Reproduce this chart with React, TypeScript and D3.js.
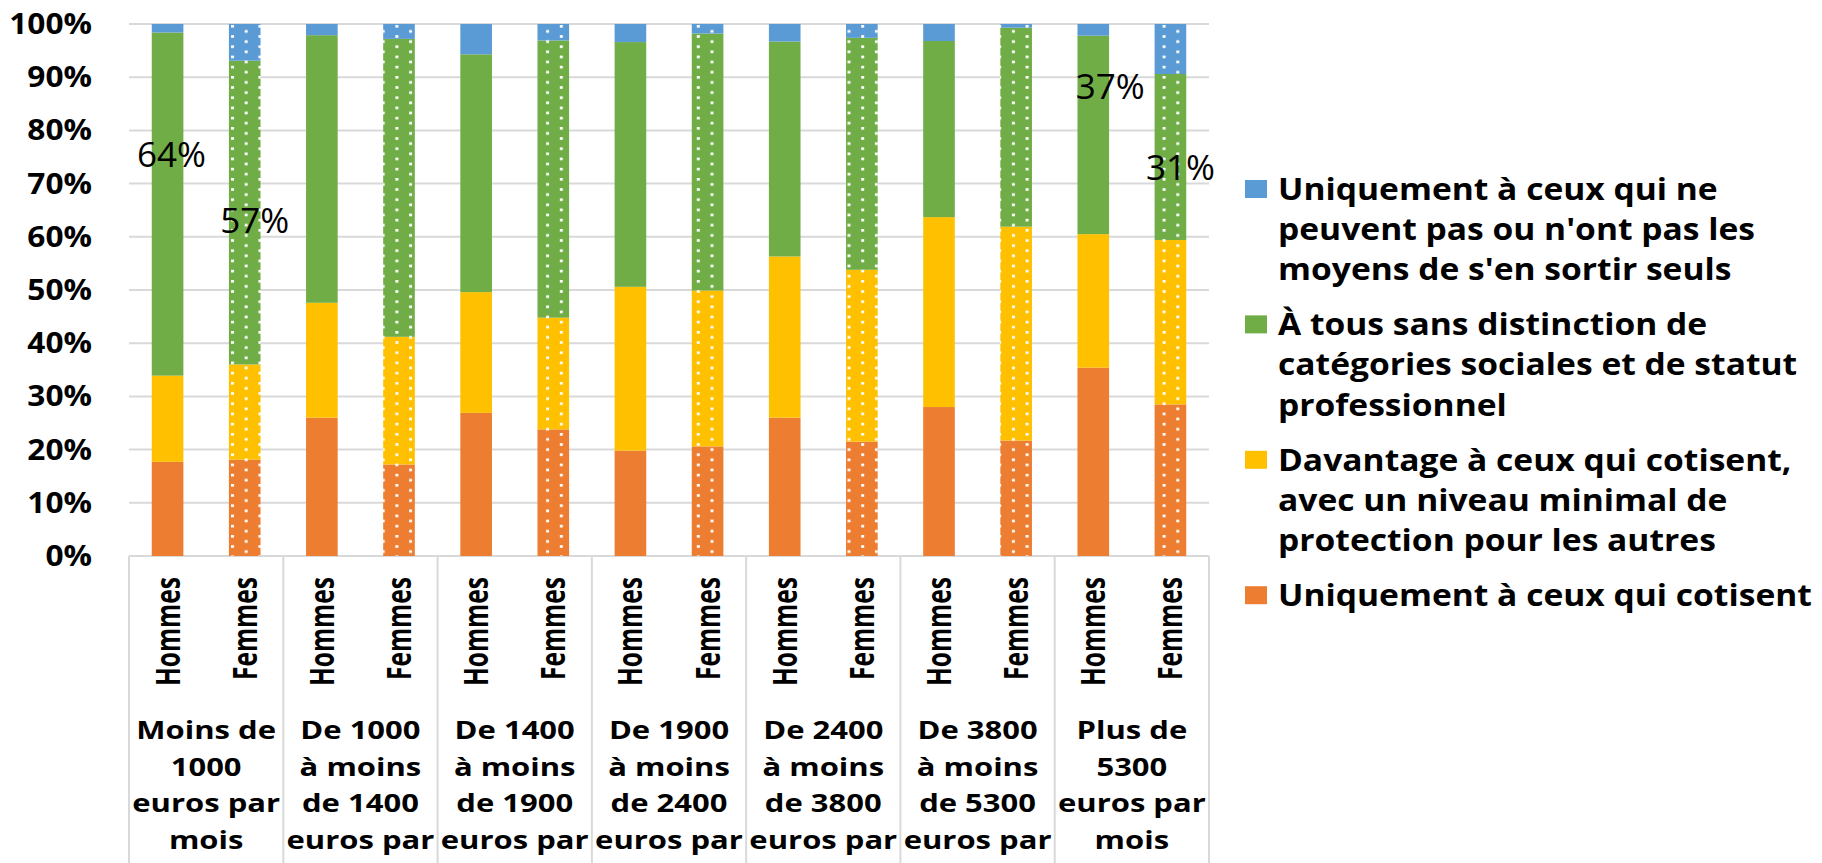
import React from 'react';
import * as d3 from 'd3';

// ---------- DATA ----------
const groupLabels: string[][] = [
  ["Moins de", "1000", "euros par", "mois"],
  ["De 1000", "à moins", "de 1400", "euros par", "mois"],
  ["De 1400", "à moins", "de 1900", "euros par", "mois"],
  ["De 1900", "à moins", "de 2400", "euros par", "mois"],
  ["De 2400", "à moins", "de 3800", "euros par", "mois"],
  ["De 3800", "à moins", "de 5300", "euros par", "mois"],
  ["Plus de", "5300", "euros par", "mois"],
];
const sexes = ["Hommes", "Femmes"];

// stacked from bottom to top
const seriesKeys = ["cotisent", "davantage", "tous", "besoin"];
const seriesColors = ["#ED7D31", "#FFC000", "#70AD47", "#5B9BD5"];
const legendLines: string[][] = [
  ["Uniquement à ceux qui ne", "peuvent pas ou n'ont pas les", "moyens de s'en sortir seuls"],
  ["À tous sans distinction de", "catégories sociales et de statut", "professionnel"],
  ["Davantage à ceux qui cotisent,", "avec un niveau minimal de", "protection pour les autres"],
  ["Uniquement à ceux qui cotisent"],
];
const legendSeriesIndex = [3, 2, 1, 0];

// values per bar (Hommes, Femmes for each income group), in %
const cotisent = [17.7, 18.1, 26.0, 17.2, 26.9, 23.8, 19.8, 20.6, 26.0, 21.5, 28.0, 21.7, 35.4, 28.5];
const davantage = [16.2, 17.9, 21.6, 24.0, 22.7, 21.0, 30.8, 29.3, 30.3, 32.3, 35.7, 40.2, 25.1, 30.9];
const tous = [64.5, 57.1, 50.3, 56.0, 44.7, 52.1, 46.0, 48.3, 40.4, 43.6, 33.1, 37.4, 37.3, 31.2];
const besoin = [1.6, 6.9, 2.1, 2.8, 5.7, 3.1, 3.4, 1.8, 3.3, 2.6, 3.2, 0.7, 2.2, 9.4];

const yTicks = [0, 10, 20, 30, 40, 50, 60, 70, 80, 90, 100];

// free-standing percentage labels: bar index, text, vertical value, horizontal nudge
const pctLabels = [
  { bar: 0, text: "64%", v: 75.4, dx: 4 },
  { bar: 1, text: "57%", v: 63.0, dx: 10 },
  { bar: 12, text: "37%", v: 88.3, dx: 17 },
  { bar: 13, text: "31%", v: 73.1, dx: 10 },
];

// ---------- CHART ----------
const W = 1822;
const H = 863;
const M = { left: 129, right: 1209, top: 24, bottom: 556 };
const FONT = "'Open Sans', 'DejaVu Sans', sans-serif";
const GRID = "#d9d9d9";
const CAT_BASE = 739;
const CAT_STEP = 36.7;

export default function App() {
  const barKeys: string[] = [];
  groupLabels.forEach((_, g) => sexes.forEach((s) => barKeys.push(`${g}-${s}`)));

  const rows = barKeys.map((k, i) => ({
    key: k,
    female: i % 2 === 1,
    cotisent: cotisent[i],
    davantage: davantage[i],
    tous: tous[i],
    besoin: besoin[i],
  }));

  const x = d3.scaleBand<string>().domain(barKeys).range([M.left, M.right]).paddingInner(0.59).paddingOuter(0.295);
  const gx = d3.scaleBand<number>().domain(d3.range(groupLabels.length)).range([M.left, M.right]);
  const y = d3.scaleLinear().domain([0, 100]).range([M.bottom, M.top]);

  const stacked = d3.stack<any>().keys(seriesKeys)(rows);

  const tileW = 27.4;
  const tileH = 10.2;

  return (
    <svg width={W} height={H} viewBox={`0 0 ${W} ${H}`}
      style={{ position: 'absolute', left: 0, top: 0, background: '#fff', overflow: 'hidden' }}>
      <defs>
        {seriesColors.map((c, i) => (
          <pattern key={i} id={`dot${i}`} patternUnits="userSpaceOnUse" x={231} y={25} width={tileW} height={tileH}>
            <rect x={0} y={0} width={tileW} height={tileH} fill={c} />
            <rect x={0} y={0} width={3} height={2.6} fill="#fff" />
            <rect x={tileW / 2} y={tileH / 2} width={3} height={2.6} fill="#fff" />
          </pattern>
        ))}
      </defs>
      <rect x={0} y={0} width={W} height={H} fill="#fff" />

      {/* gridlines */}
      {yTicks.map((t) => (
        <line key={t} x1={M.left} x2={M.right} y1={y(t)} y2={y(t)} stroke={GRID} strokeWidth={2} />
      ))}

      {/* category separators */}
      {d3.range(groupLabels.length + 1).map((i) => {
        const xx = i < groupLabels.length ? gx(i)! : M.right;
        return <line key={i} x1={xx} x2={xx} y1={M.bottom} y2={H} stroke={GRID} strokeWidth={2} />;
      })}

      {/* bars */}
      {stacked.map((layer, si) => (
        <g key={si}>
          {layer.map((d, bi) => (
            <rect key={bi} x={x(barKeys[bi])} width={x.bandwidth()}
              y={y(d[1])} height={y(d[0]) - y(d[1])}
              fill={rows[bi].female ? `url(#dot${si})` : seriesColors[si]} />
          ))}
        </g>
      ))}

      {/* y tick labels */}
      {yTicks.map((t) => (
        <g key={t} transform={`translate(92,${y(t) + 10}) scale(1.13,1)`}>
          <text textAnchor="end" fontFamily={FONT} fontWeight={700} fontSize={28} fill="#000">{t}%</text>
        </g>
      ))}

      {/* sex labels (rotated) */}
      {barKeys.map((k, i) => (
        <g key={k} transform={`translate(${x(k)! + x.bandwidth() / 2 + 12},577) scale(1.36,1) rotate(-90)`}>
          <text textAnchor="end" fontFamily={FONT} fontWeight={700} fontSize={24.6} fill="#000">{sexes[i % 2]}</text>
        </g>
      ))}

      {/* group labels (lines falling below the picture's edge are not drawn, as in the reference) */}
      {groupLabels.map((lines, g) => (
        <g key={g}>
          {lines.map((ln, li) => {
            const base = CAT_BASE + li * CAT_STEP;
            if (base - 14 > H) return null;
            return (
              <g key={li} transform={`translate(${gx(g)! + gx.bandwidth() / 2},${base}) scale(1.24,1)`}>
                <text textAnchor="middle" fontFamily={FONT} fontWeight={700} fontSize={25} fill="#000">{ln}</text>
              </g>
            );
          })}
        </g>
      ))}

      {/* percentage labels */}
      {pctLabels.map((p) => (
        <text key={p.text} x={x(barKeys[p.bar])! + x.bandwidth() / 2 + p.dx} y={y(p.v) + 12.5}
          textAnchor="middle" fontFamily={FONT} fontSize={35} fill="#000">{p.text}</text>
      ))}

      {/* legend */}
      {legendLines.map((lines, li) => {
        const top = 189 + li * 135.4;
        const si = legendSeriesIndex[li];
        return (
          <g key={li}>
            <rect x={1245} y={top - 9} width={22} height={18} fill={seriesColors[si]} />
            {lines.map((ln, k) => (
              <g key={k} transform={`translate(1278,${top + k * 40.3 + 10.7}) scale(1.12,1)`}>
                <text fontFamily={FONT} fontWeight={700} fontSize={30} fill="#000">{ln}</text>
              </g>
            ))}
          </g>
        );
      })}
    </svg>
  );
}
